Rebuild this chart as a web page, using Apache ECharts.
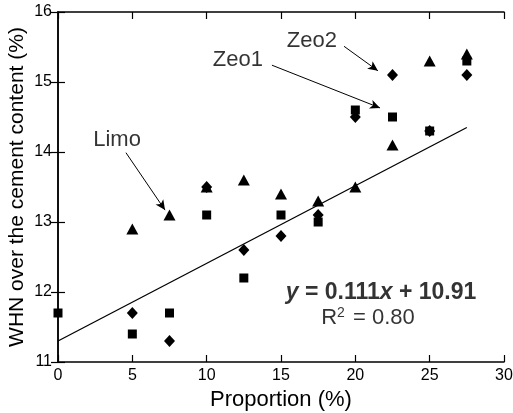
<!DOCTYPE html>
<html><head><meta charset="utf-8">
<script src="https://cdn.jsdelivr.net/npm/echarts@6/dist/echarts.min.js"></script>
<style>html,body{margin:0;padding:0;background:#fff}#c{width:513px;height:413px}</style>
</head><body><div id="c"></div>
<script>
const proportions = [0, 5, 7.5, 10, 12.5, 15, 17.5, 20, 22.5, 25, 27.5];
const zeo1Values = [11.7, 11.4, 11.7, 13.1, 12.2, 13.1, 13.0, 14.6, 14.5, 14.3, 15.3];
const zeo2X = [5, 7.5, 10, 12.5, 15, 17.5, 20, 22.5, 25, 27.5];
const zeo2Values = [11.7, 11.3, 13.5, 12.6, 12.8, 13.1, 14.5, 15.1, 14.3, 15.1];
const limoX = [5, 7.5, 10, 12.5, 15, 17.5, 20, 22.5, 25, 27.5];
const limoValues = [12.9, 13.1, 13.5, 13.6, 13.4, 13.3, 13.5, 14.1, 15.3, 15.4];
const fitX = [0, 27.5];
const fitY = [11.3, 14.35];
const xTicks = [0, 5, 10, 15, 20, 25, 30];
const yTicks = [11, 12, 13, 14, 15, 16];
const annotations = [
  {text: 'Limo', at: [3.97, 14.17], from: [4.57, 13.99], to: [7.2, 13.17]},
  {text: 'Zeo1', at: [12.1, 15.31], from: [14.39, 15.24], to: [21.66, 14.63]},
  {text: 'Zeo2', at: [17.08, 15.59], from: [19.24, 15.51], to: [21.52, 15.16]}
];
const eqPos = [21.73, 11.99];
const r2Pos = [20.85, 11.63];

const FONT = '"Liberation Sans", Arial, Helvetica, sans-serif';
const INK = '#000';
const pair = (xs, ys) => xs.map((x, i) => [x, ys[i]]);
const chart = echarts.init(document.getElementById('c'));
const axisCommon = {
  min: 0, max: 30, interval: 5,
  axisLine: {show: true, lineStyle: {color: INK, width: 1.5}},
  axisTick: {inside: true, length: 7, lineStyle: {color: INK, width: 1.2}},
  splitLine: {show: false}
};
const yCommon = {
  min: 11, max: 16, interval: 1,
  axisLine: {show: true, lineStyle: {color: INK, width: 1.5}},
  axisTick: {inside: true, length: 7, lineStyle: {color: INK, width: 1.2}},
  splitLine: {show: false}
};
const mark = {color: INK, opacity: 1};
chart.setOption({
  animation: false,
  textStyle: {fontFamily: FONT},
  grid: {left: 58, right: 9, top: 12, bottom: 51, containLabel: false, outerBoundsMode: 'none'},
  xAxis: [
    Object.assign({}, axisCommon, {type: 'value', position: 'bottom',
      name: 'Proportion (%)', nameLocation: 'middle', nameGap: 24,
      nameTextStyle: {fontSize: 22, color: INK, fontFamily: FONT},
      axisLabel: {fontSize: 16, color: INK, margin: 6, fontFamily: FONT,
        formatter: v => xTicks.includes(v) ? String(v) : ''}}),
    Object.assign({}, axisCommon, {type: 'value', position: 'top', axisLabel: {show: false}})
  ],
  yAxis: [
    Object.assign({}, yCommon, {type: 'value', position: 'left',
      name: 'WHN over the cement content (%)', nameLocation: 'middle', nameGap: 30,
      nameMoveOverlap: false,
      nameTextStyle: {fontSize: 21, color: INK, fontFamily: FONT},
      axisLabel: {fontSize: 16, color: INK, margin: 6, fontFamily: FONT,
        formatter: v => yTicks.includes(v) ? String(v) : ''}}),
    Object.assign({}, yCommon, {type: 'value', position: 'right', axisLabel: {show: false}})
  ],
  series: [
    {type: 'line', data: pair(fitX, fitY), symbol: 'none', lineStyle: {color: INK, width: 1.3}, z: 1},
    {name: 'Zeo1', type: 'scatter', data: pair(proportions, zeo1Values), symbol: 'rect', symbolSize: 9, itemStyle: mark},
    {name: 'Zeo2', type: 'scatter', data: pair(zeo2X, zeo2Values), symbol: 'diamond', symbolSize: [11, 12], itemStyle: mark},
    {name: 'Limo', type: 'scatter', data: pair(limoX, limoValues), symbol: 'triangle', symbolSize: [12, 11], itemStyle: mark},
    {type: 'line', data: [], symbol: 'none',
      markLine: {silent: true, symbol: ['none', 'arrow'], symbolSize: [7, 10],
        lineStyle: {color: INK, width: 1, type: 'solid'}, label: {show: false},
        data: annotations.map(a => [{coord: a.from}, {coord: a.to}])}},
    {type: 'scatter', symbolSize: 0, silent: true,
      data: annotations.map(a => ({value: a.at, name: a.text})),
      label: {show: true, position: 'inside', formatter: p => p.name, fontSize: 22, color: INK, fontFamily: FONT}},
    {type: 'scatter', symbolSize: 0, silent: true,
      data: [{value: eqPos, name: 'eq'}, {value: r2Pos, name: 'r2'}],
      label: {show: true, position: 'inside', color: INK, fontFamily: FONT,
        formatter: p => p.name === 'eq' ? '{i|y}{b| = 0.111}{i|x}{b| + 10.91}' : '{n|R}{s|2}{n| = 0.80}',
        rich: {
          i: {fontSize: 23, fontStyle: 'italic', fontWeight: 'bold', color: INK, fontFamily: FONT},
          b: {fontSize: 23, fontWeight: 'bold', color: INK, fontFamily: FONT},
          n: {fontSize: 22, color: INK, fontFamily: FONT},
          s: {fontSize: 14, color: INK, fontFamily: FONT, verticalAlign: 'top', padding: [0, 2, 9, 0]}
        }}}
  ]
});
</script></body></html>
